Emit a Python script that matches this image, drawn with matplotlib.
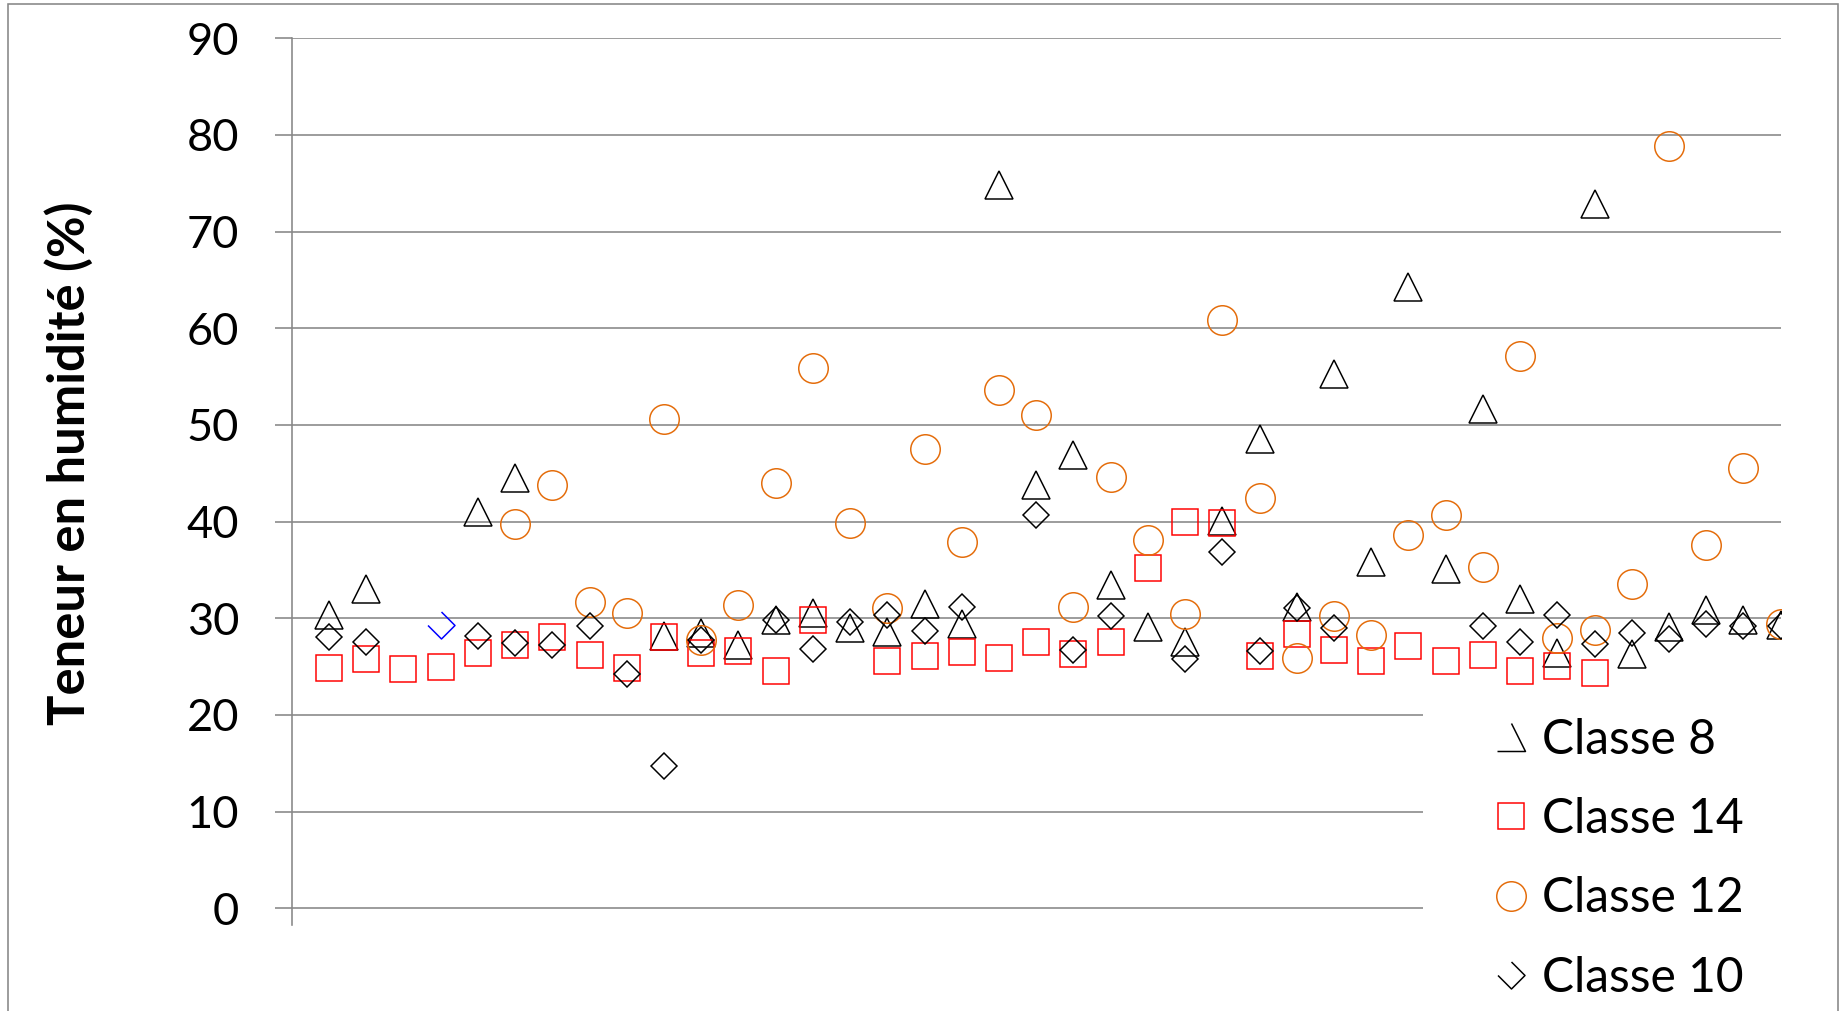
import numpy as np
import matplotlib
matplotlib.use("Agg")
import matplotlib.pyplot as plt
from matplotlib.path import Path
from matplotlib.lines import Line2D
from matplotlib.patches import Rectangle

nan = np.nan

# Sample index along the horizontal axis
sample = list(range(1, 41))

# Moisture content (%) per class, NaN where no measurement exists
classe8 = [30.3, 33.0, nan, nan, 41.0, 44.5, nan, nan, nan, 28.2,
           28.5, 27.2, 29.8, 30.6, 29.0, 28.6, 31.5, 29.4, 74.8, 43.8,
           46.9, 33.4, 29.1, 27.6, 40.1, 48.5, 31.2, 55.3, 35.8, 64.3,
           35.1, 51.6, 32.0, 26.4, 72.9, 26.3, 29.1, 30.9, 29.8, 29.3]
classe14 = [24.9, 25.8, 24.8, 25.0, 26.4, 27.2, 28.1, 26.2, 24.9, 28.1,
            26.4, 26.6, 24.5, 29.8, nan, 25.6, 26.1, 26.5, 25.9, 27.5,
            26.3, 27.5, 35.2, 40.0, 39.9, 26.1, 28.4, 26.7, 25.6, 27.1,
            25.6, 26.2, 24.5, 25.1, 24.3, nan, nan, nan, nan, nan]
classe12 = [nan, nan, nan, nan, nan, 39.75, 43.75, 31.7, 30.6, 50.6,
            27.8, 31.4, 44.0, 55.85, 39.9, 31.1, 47.5, 37.9, 53.6, 51.0,
            31.2, 44.6, 38.1, 30.4, 60.9, 42.4, 25.9, 30.2, 28.3, 38.6,
            40.7, 35.3, 57.1, 28.0, 28.8, 33.6, 78.9, 37.6, 45.5, 29.4]
classe10 = [28.1, 27.6, nan, 29.3, 28.2, 27.4, 27.2, 29.2, 24.2, 14.7,
            27.8, nan, 29.8, 26.8, 29.6, 30.3, 28.7, 31.2, nan, 40.7,
            26.7, 30.2, nan, 25.8, 36.9, 26.6, 31.1, 29.0, nan, nan,
            nan, 29.2, 27.5, 30.3, 27.3, 28.5, 27.9, 29.4, 29.2, 29.2]
# sample whose Classe 10 marker is drawn in blue
classe10_highlight = 4

series_labels = ["Classe 8", "Classe 14", "Classe 12", "Classe 10"]
y_ticks = list(range(0, 100, 10))
y_title = "Teneur en humidité (%)"

W, H, DPI = 1841, 1011, 100
GRAY = "#878787"
ORANGE = "#E46C0A"
RED = "#FF0000"
BLUE = "#0000FF"
FS_TICK = 32.5
FS_LEG = 34.5
FS_TITLE = 36.5


def pt(pixels):
    return pixels * 72.0 / DPI


plt.rcParams["font.family"] = ["Lato", "DejaVu Sans"]

fig = plt.figure(figsize=(W / DPI, H / DPI), dpi=DPI)
fig.patch.set_facecolor("white")

ax_left, ax_right, ax_top, ax_bottom = 291.7, 1780.7, 38.2, 925.0
ax = fig.add_axes([ax_left / W, (H - ax_bottom) / H,
                   (ax_right - ax_left) / W, (ax_bottom - ax_top) / H])
ax.set_xlim(0, 40)
ax.set_ylim(-1.72, 90)
ax.set_axisbelow(True)

for side in ("top", "right", "bottom"):
    ax.spines[side].set_visible(False)
ax.spines["left"].set_color(GRAY)
ax.spines["left"].set_linewidth(pt(1.6))

ax.set_xticks([])
ax.set_yticks(y_ticks)
ax.set_yticklabels([str(v) for v in y_ticks])
ax.tick_params(axis="y", length=pt(16.7), width=pt(1.6), color=GRAY,
               pad=pt(35.7), labelsize=FS_TICK, labelcolor="black")
ax.yaxis.grid(True, color=GRAY, linewidth=pt(1.6))

# Partial outlines: open triangle without its left side, open diamond
# without its upper-left side
tri_open = Path([(-1, -1), (1, -1), (0, 1)],
                [Path.MOVETO, Path.LINETO, Path.LINETO])
dia_open = Path([(-1, 0), (0, -1), (1, 0), (0, 1)],
                [Path.MOVETO, Path.LINETO, Path.LINETO, Path.LINETO])

mew = pt(1.5)
x = np.array(sample)
ax.plot(x, classe8, linestyle="none", marker="^", markersize=pt(27),
        mfc="none", mec="black", mew=mew, zorder=3)
ax.plot(x, classe14, linestyle="none", marker="s", markersize=pt(26.3),
        mfc="none", mec=RED, mew=mew, zorder=4)
ax.plot(x, classe12, linestyle="none", marker="o", markersize=pt(29.5),
        mfc="none", mec=ORANGE, mew=mew, zorder=5)

c10 = np.array(classe10, dtype=float)
mask = x == classe10_highlight
ax.plot(x[~mask], c10[~mask], linestyle="none", marker="D",
        markersize=pt(27.0 / np.sqrt(2)), mfc="none", mec="black",
        mew=mew, zorder=6)
ax.plot(x[mask], c10[mask], linestyle="none", marker=dia_open,
        markersize=pt(27.0), mfc="none", mec=BLUE, mew=mew, zorder=6)

# White area behind the legend
ax.add_patch(Rectangle((1423 / W, 0), (1836 - 1423) / W, (H - 700) / H,
                       transform=fig.transFigure, facecolor="white",
                       edgecolor="none", clip_on=False, zorder=1))

handles = [
    Line2D([], [], linestyle="none", marker=tri_open, markersize=pt(28),
           mfc="none", mec="black", mew=mew),
    Line2D([], [], linestyle="none", marker="s", markersize=pt(26.3),
           mfc="none", mec=RED, mew=mew),
    Line2D([], [], linestyle="none", marker="o", markersize=pt(29.5),
           mfc="none", mec=ORANGE, mew=mew),
    Line2D([], [], linestyle="none", marker=dia_open, markersize=pt(27),
           mfc="none", mec="black", mew=mew),
]
fs_px = FS_LEG / 72.0 * DPI
hl_px = 30.0
leg = ax.legend(handles, series_labels, loc="upper left",
                bbox_to_anchor=((1511 - hl_px / 2) / W, 1 - 718 / H),
                bbox_transform=fig.transFigure, frameon=False,
                fontsize=FS_LEG, handlelength=hl_px / fs_px,
                handletextpad=15.6 / fs_px, labelspacing=0.735,
                borderpad=0, borderaxespad=0)
leg.set_zorder(10)

fig.text(69 / W, 1 - 463.5 / H, y_title, rotation=90, ha="center",
         va="center", fontsize=FS_TITLE, fontweight="bold")

# Outer chart border
fig.patches.append(Rectangle((7.7 / W, -0.05), (1837.5 - 7.7) / W,
                             1.05 - 4 / H, transform=fig.transFigure,
                             fill=False, edgecolor=GRAY,
                             linewidth=pt(1.6), zorder=0))

fig.savefig("out.png", dpi=DPI)
